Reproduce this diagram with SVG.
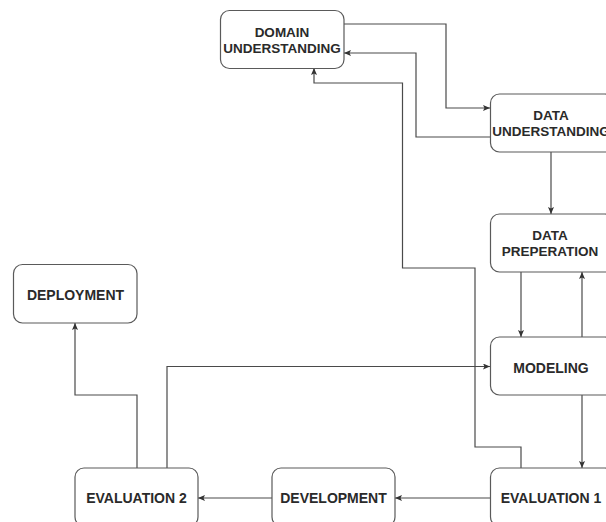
<svg xmlns="http://www.w3.org/2000/svg" width="606" height="522" viewBox="0 0 606 522">
<style>
.box{fill:#ffffff;stroke:#5a5a5a;stroke-width:1.2}
.t{font-family:"Liberation Sans",Arial,sans-serif;font-weight:bold;fill:#2a2a2a;text-anchor:middle}
.s{font-size:14px}
.m{font-size:13.5px}
.c{fill:none;stroke:#4a4a4a;stroke-width:1.2;marker-end:url(#a)}
</style>
<defs>
<marker id="a" markerUnits="userSpaceOnUse" markerWidth="8" markerHeight="8" refX="7" refY="3" orient="auto">
<path d="M0,0 L7,3 L0,6 L1.5,3 z" fill="#333"/>
</marker>
</defs>
<rect width="606" height="522" fill="#ffffff"/>
<g id="connectors">
<path class="c" d="M344,24 H446 V108 H490"/>
<path class="c" d="M490,137 H416 V53 H344"/>
<path class="c" d="M551,152 V214"/>
<path class="c" d="M521,272 V337"/>
<path class="c" d="M582,337 V272"/>
<path class="c" d="M582,395 V468"/>
<path class="c" d="M490,498 H395"/>
<path class="c" d="M272,498 H198"/>
<path class="c" d="M137,468 V395 H75 V323"/>
<path class="c" d="M167,468 V366.5 H490"/>
<path class="c" d="M521,468 V447 H475 V268 H402.5 V83 H314 V68"/>
</g>
<g id="domain">
<rect class="box" x="220.5" y="10.5" width="123.5" height="58" rx="9"/>
<text class="t m" x="282" y="37">DOMAIN</text>
<text class="t m" x="282" y="53">UNDERSTANDING</text>
</g>
<g id="data-understanding">
<rect class="box" x="490.5" y="94" width="123.5" height="58" rx="9"/>
<text class="t m" x="551" y="119.5">DATA</text>
<text class="t m" x="551" y="136">UNDERSTANDING</text>
</g>
<g id="data-preperation">
<rect class="box" x="490.5" y="214" width="123.5" height="58" rx="9"/>
<text class="t m" x="550" y="239.5">DATA</text>
<text class="t m" x="550" y="256">PREPERATION</text>
</g>
<g id="modeling">
<rect class="box" x="490.5" y="337" width="123.5" height="58" rx="9"/>
<text class="t s" x="551" y="372.5">MODELING</text>
</g>
<g id="evaluation1">
<rect class="box" x="490.5" y="468" width="123.5" height="58" rx="9"/>
<text class="t s" x="551" y="503">EVALUATION 1</text>
</g>
<g id="development">
<rect class="box" x="272" y="468" width="123" height="58" rx="9"/>
<text class="t s" x="333.5" y="503">DEVELOPMENT</text>
</g>
<g id="evaluation2">
<rect class="box" x="75" y="468" width="123" height="58" rx="9"/>
<text class="t s" x="136.5" y="503">EVALUATION 2</text>
</g>
<g id="deployment">
<rect class="box" x="13.5" y="264.5" width="123.5" height="58.5" rx="9"/>
<text class="t s" x="75.5" y="300">DEPLOYMENT</text>
</g>
</svg>
